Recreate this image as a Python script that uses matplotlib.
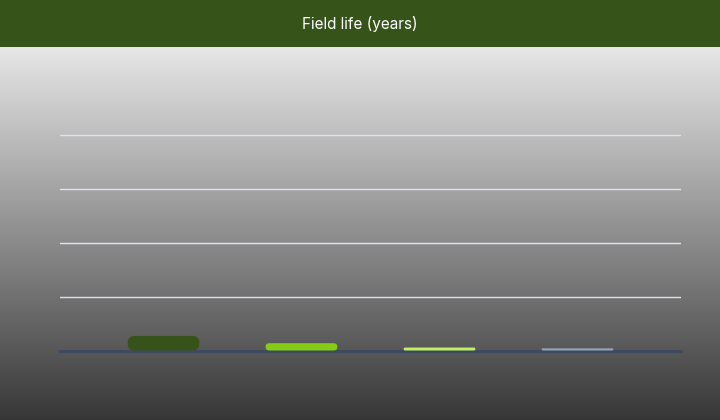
import numpy as np
import matplotlib
matplotlib.use("Agg")
import matplotlib.pyplot as plt
from matplotlib.patches import Rectangle, FancyBboxPatch

# data
categories = ["Field A", "Field B", "Field C", "Field D"]
field_life = [2.7, 1.35, 0.55, 0.4]
bar_colors = ["#37531a", "#84cc16", "#bef264", "#94a3b8"]
y_ticks = [0, 10, 20, 30, 40]

W, H = 720, 420
fig = plt.figure(figsize=(W / 100, H / 100), dpi=100)

# gradient background below the title band
bg = fig.add_axes([0, 0, 1, 1], zorder=-10)
bg.set_axis_off()
grad = np.linspace(0.0, 1.0, 256).reshape(-1, 1)
top_c = np.array([0.905, 0.905, 0.905])
bot_c = np.array([0.215, 0.215, 0.215])
img = top_c + (bot_c - top_c) * grad[..., None]
bg.imshow(img, aspect="auto", extent=[0, 1, 0, 1 - 47 / H], origin="upper")
bg.set_xlim(0, 1)
bg.set_ylim(0, 1)

# title band
fig.patches.append(Rectangle((0, 1 - 47 / H), 1, 47 / H, transform=fig.transFigure,
                             facecolor="#36531a", edgecolor="none", zorder=-5))
fig.text(0.5, 1 - 24 / H, "Field life (years)", color="white", fontsize=11,
         ha="center", va="center", family=["Inter", "DejaVu Sans"])

# main axes
y_max = 42
left, right, bottom = 60, 681, 350.5
top = bottom - y_max / 40 * 216
ax = fig.add_axes([left / W, (H - bottom) / H, (right - left) / W, (bottom - top) / H])
ax.patch.set_alpha(0)
x = np.arange(len(categories))
ax.set_xlim(-0.75, 3.75)
ax.set_ylim(0, y_max)
ax.set_yticks(y_ticks[1:])
ax.grid(axis="y", color="#dde3f0", linewidth=1)
ax.tick_params(left=False, bottom=False, labelleft=False, labelbottom=False)
for s in ax.spines.values():
    s.set_visible(False)
ax.axhline(0, color="#3b4a60", linewidth=2, zorder=3, clip_on=False)

bars = ax.bar(x, field_life, width=0.52, color=bar_colors)

# swap plain bars for rounded ones
xu_per_px = 4.5 / (right - left)
yu_per_px = y_max / (bottom - top)
for b in bars:
    bx, by = b.get_x(), b.get_y()
    bw, bh = b.get_width(), b.get_height()
    r_px = min(7, bh / yu_per_px / 2)
    b.set_visible(False)
    p = FancyBboxPatch((bx, by), bw, bh,
                       boxstyle=f"round,pad=0,rounding_size={r_px * xu_per_px}",
                       mutation_aspect=yu_per_px / xu_per_px,
                       facecolor=b.get_facecolor(), edgecolor="none", zorder=4,
                       clip_on=False)
    ax.add_patch(p)

fig.savefig("out.png", dpi=100)
